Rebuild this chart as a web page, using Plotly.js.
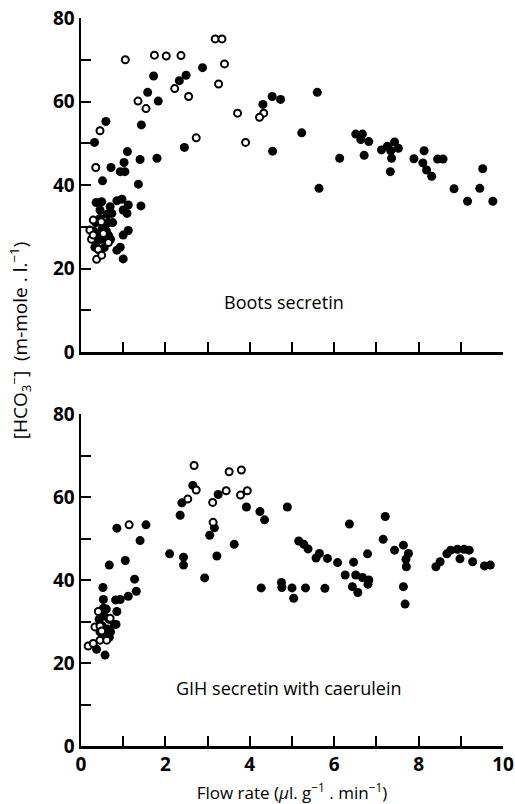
<!DOCTYPE html>
<html>
<head>
<meta charset="utf-8">
<script src="https://cdn.plot.ly/plotly-3.0.1.min.js"></script>
<style>html,body{margin:0;padding:0;background:#fff}#chart{width:515px;height:804px}</style>
</head>
<body>
<div id="chart"></div>
<script>
// Top panel: Boots secretin
const bootsFilledX = [1.72,2.33,2.49,2.88,1.58,1.83,0.59,1.43,0.32,2.45,1.10,1.02,1.40,1.80,0.71,0.93,1.04,0.51,1.36,0.36,0.49,0.85,0.97,1.12,1.42,1.00,1.09,0.69,0.73,1.00,1.12,0.85,0.93,1.00,0.33,0.41,
  0.35,0.45,0.55,0.30,0.42,0.50,0.60,0.65,0.38,0.55,0.70,0.62,0.45,0.75,0.50,0.65,
  5.60,4.53,4.73,4.31,5.23,4.54,6.51,6.67,6.63,6.82,6.13,6.71,5.64,7.12,7.26,7.43,7.52,7.34,7.36,7.33,7.89,8.13,8.10,8.19,8.31,8.45,8.58,8.84,9.16,9.45,9.52,9.76,10.09];
const bootsFilledY = [66.1,65.0,66.3,68.1,62.2,60.1,55.2,54.4,50.2,49.0,48.0,45.4,46.1,46.4,44.2,43.2,43.2,41.0,40.2,35.8,36.0,36.2,36.6,35.2,35.0,34.0,33.2,34.8,33.2,28.0,29.1,24.4,25.1,22.3,25.1,24.6,
  31,32,30,29,28,27,29,31,26.5,25,27,33,34,31,29.5,28,
  62.2,61.2,60.5,59.3,52.5,48.1,52.2,52.2,50.9,50.4,46.4,47.1,39.2,48.4,49.3,50.3,48.8,48.2,46.4,43.2,46.3,48.2,45.3,43.6,42.1,46.2,46.2,39.1,36.1,39.2,43.9,36.1,43.0];
const bootsOpenX = [1.05,1.74,2.02,2.37,3.18,3.34,3.40,3.26,2.22,1.35,2.55,1.54,0.45,2.73,0.35,3.71,4.33,4.23,3.90,
  0.29,0.21,0.25,0.48,0.29,0.53,0.65,0.41,0.37,0.49];
const bootsOpenY = [70,71.1,70.9,71,75,75,69.0,64.2,63.1,60.1,61.2,58.3,53.0,51.3,44.2,57.2,57.2,56.2,50.2,
  31.6,29.2,27.0,31.2,28.0,28.4,26.2,24.6,22.2,23.2];

// Bottom panel: GIH secretin with caerulein
const gihFilledX = [2.65,2.39,2.35,3.25,3.16,3.05,0.85,1.54,1.40,2.10,2.43,2.43,3.22,2.93,0.67,1.05,1.27,1.31,1.12,0.82,0.93,0.52,0.53,0.85,0.53,
  0.43,0.55,0.67,0.79,0.50,0.62,0.70,0.55,0.67,0.83,0.45,0.60,0.37,0.57,
  3.92,4.24,4.89,4.35,3.63,6.36,5.16,5.28,5.38,5.65,5.57,5.84,6.08,6.46,6.79,6.26,6.51,6.67,6.82,6.80,6.43,6.56,4.27,4.75,4.76,5.00,5.04,5.32,5.78,
  7.21,7.16,7.43,7.64,7.76,7.70,7.71,7.64,7.68,8.41,8.51,8.67,8.76,8.92,9.08,9.20,8.98,9.28,9.56,9.70];
const gihFilledY = [62.8,58.6,55.6,60.6,52.6,50.8,52.5,53.3,49.5,46.3,45.5,43.6,45.8,40.5,43.6,44.7,40.2,37.3,36.1,35.2,35.3,38.2,35.3,32.4,33.2,
  30.5,31.3,30.5,29.3,29.0,28.2,27.5,26.6,26.2,29.3,27.5,33.0,23.3,21.9,
  57.6,56.5,57.6,54.5,48.6,53.5,49.4,48.6,47.5,46.4,45.3,45.2,44.2,44.3,46.3,41.2,41.2,40.6,40.0,39.0,38.4,37.0,38.1,39.4,38.2,38.1,35.6,38.1,38.0,
  55.3,49.8,47.2,48.4,46.4,45.0,43.2,38.4,34.2,43.2,44.4,46.3,47.2,47.4,47.4,47.2,45.1,44.4,43.4,43.6];
const gihOpenX = [2.68,2.73,2.53,3.51,3.44,3.12,3.13,1.14,3.80,3.94,3.78,0.41,0.69,0.33,0.45,0.49,0.17,0.29,0.45,0.61];
const gihOpenY = [67.6,61.7,59.5,66.1,61.5,58.7,53.9,53.3,66.5,61.5,60.5,32.4,30.8,28.7,28.9,27.7,24.1,24.7,25.5,25.5];

// Ticks (every 1 on x, every 10 on y; labels on every other tick)
const xTickVals = [0,1,2,3,4,5,6,7,8,9,10];
const xTickText = ['0','','2','','4','','6','','8','','10'];
const yTickVals = [0,10,20,30,40,50,60,70,80];
const yTickText = ['0','','20','','40','','60','','80'];

const filledMarker = {symbol:'circle', size:9, color:'#000', line:{width:0}};
const openMarker = {symbol:'circle', size:7, color:'#fff', line:{width:2, color:'#000'}};

const traces = [
  {x:bootsFilledX, y:bootsFilledY, xaxis:'x2', yaxis:'y2', mode:'markers', type:'scatter', marker:filledMarker, cliponaxis:false},
  {x:bootsOpenX, y:bootsOpenY, xaxis:'x2', yaxis:'y2', mode:'markers', type:'scatter', marker:openMarker, cliponaxis:false},
  {x:gihFilledX, y:gihFilledY, xaxis:'x', yaxis:'y', mode:'markers', type:'scatter', marker:filledMarker, cliponaxis:false},
  {x:gihOpenX, y:gihOpenY, xaxis:'x', yaxis:'y', mode:'markers', type:'scatter', marker:openMarker, cliponaxis:false}
];

const FONT = '"Open Sans", "DejaVu Sans", sans-serif';
const tickFont = {family:FONT, size:19, color:'#000', weight:'bold'};
const axisCommon = {
  showgrid:false, zeroline:false, showline:true, linecolor:'#000', linewidth:2.5,
  ticks:'inside', ticklen:10, tickwidth:2, tickcolor:'#000', tickfont:tickFont, tickmode:'array'
};

const layout = {
  width:515, height:804, margin:{l:81, r:12, t:18, b:58},
  paper_bgcolor:'#fff', plot_bgcolor:'#fff', showlegend:false,
  xaxis: Object.assign({}, axisCommon, {anchor:'y', range:[0,10], tickvals:xTickVals, ticktext:xTickText,
    title:{text:'Flow rate (<i>μ</i>l. g<sup>−1</sup> . min<sup>−1</sup>)', font:{family:FONT, size:17, color:'#000'}, standoff:12}}),
  yaxis: Object.assign({}, axisCommon, {anchor:'x', domain:[0,0.456], range:[0,80], tickvals:yTickVals, ticktext:yTickText}),
  xaxis2: Object.assign({}, axisCommon, {anchor:'y2', matches:'x', range:[0,10], tickvals:xTickVals, ticktext:xTickText, showticklabels:false}),
  yaxis2: Object.assign({}, axisCommon, {anchor:'x2', domain:[0.5412,1], range:[0,80], tickvals:yTickVals, ticktext:yTickText}),
  annotations:[
    {text:'Boots secretin', xref:'x2', yref:'y2', x:4.8, y:12, showarrow:false, font:{family:FONT, size:18, color:'#000'}},
    {text:'GIH secretin with caerulein', xref:'x', yref:'y', x:4.92, y:14, showarrow:false, font:{family:FONT, size:18, color:'#000'}},
    {text:'[HCO<sub>3</sub><sup>−</sup>]  (m-mole . l.<sup>−1</sup>)', xref:'paper', yref:'paper', x:-0.145, y:0.557,
     textangle:-90, showarrow:false, xanchor:'center', yanchor:'middle', font:{family:FONT, size:19, color:'#000'}}
  ]
};

function draw(){
  return Plotly.newPlot('chart', traces, layout, {displayModeBar:false, staticPlot:true}).then(function(gd){
    // draw once more so the axis ticks are painted after all text has been measured
    return Plotly.relayout(gd, {'xaxis.ticklen':10, 'yaxis.ticklen':10, 'xaxis2.ticklen':10, 'yaxis2.ticklen':10});
  });
}
if (document.fonts && document.fonts.ready) {
  document.fonts.ready.then(draw);
} else {
  draw();
}
</script>
</body>
</html>
